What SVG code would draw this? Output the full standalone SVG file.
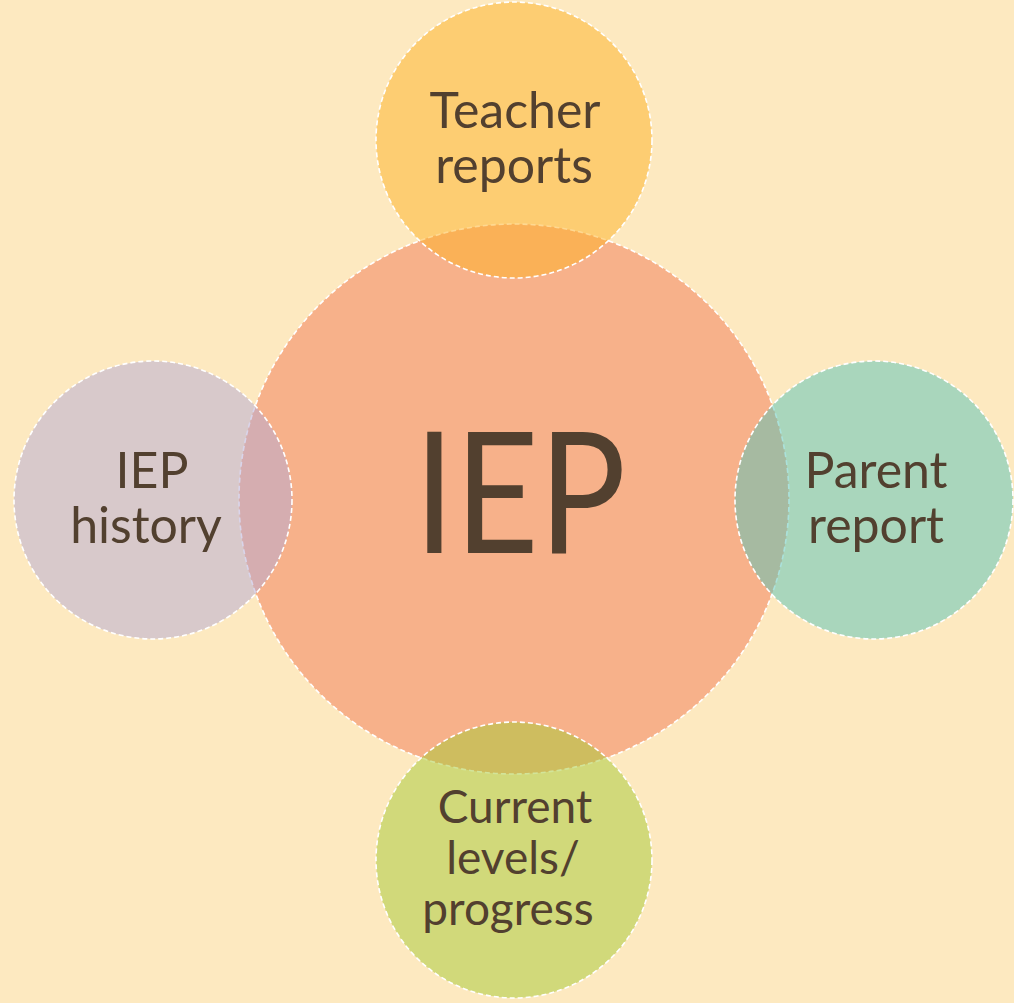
<svg xmlns="http://www.w3.org/2000/svg" width="1014" height="1003" viewBox="0 0 1014 1003">
<style>
.c{stroke:#ffffff;stroke-width:1.6;stroke-dasharray:5 3}
.s{fill-opacity:0.5}
.t{font-family:Lato,"Open Sans","Liberation Sans",sans-serif;fill:#52402f;text-anchor:middle}
.m{font-size:50px}
.b{font-size:46px}
</style>
<rect width="1014" height="1003" fill="#fde9c0"/>
<g id="connectors"></g>
<g id="center">
<circle class="c" cx="514" cy="499" r="275" fill="#f7b18a"/>
<text class="t" x="520" y="553" font-size="168" textLength="212" lengthAdjust="spacingAndGlyphs">IEP</text>
</g>
<g id="top">
<circle class="c s" cx="514" cy="140" r="138" fill="#fdb124"/>
<text class="t m" x="515" y="128">Teacher</text>
<text class="t m" x="514" y="183">reports</text>
</g>
<g id="left">
<circle class="c s" cx="153" cy="500" r="139" fill="#b3a9d6"/>
<text class="t m" x="152" y="488">IEP</text>
<text class="t m" x="146" y="543">history</text>
</g>
<g id="right">
<circle class="c s" cx="874" cy="500" r="139" fill="#55c3b8"/>
<text class="t m" x="876" y="488">Parent</text>
<text class="t m" x="876" y="543">report</text>
</g>
<g id="bottom">
<circle class="c s" cx="514" cy="860" r="138" fill="#a5c934"/>
<text class="t b" x="515" y="823">Current</text>
<text class="t b" x="513" y="874">levels/</text>
<text class="t b" x="508" y="925">progress</text>
</g>
</svg>
